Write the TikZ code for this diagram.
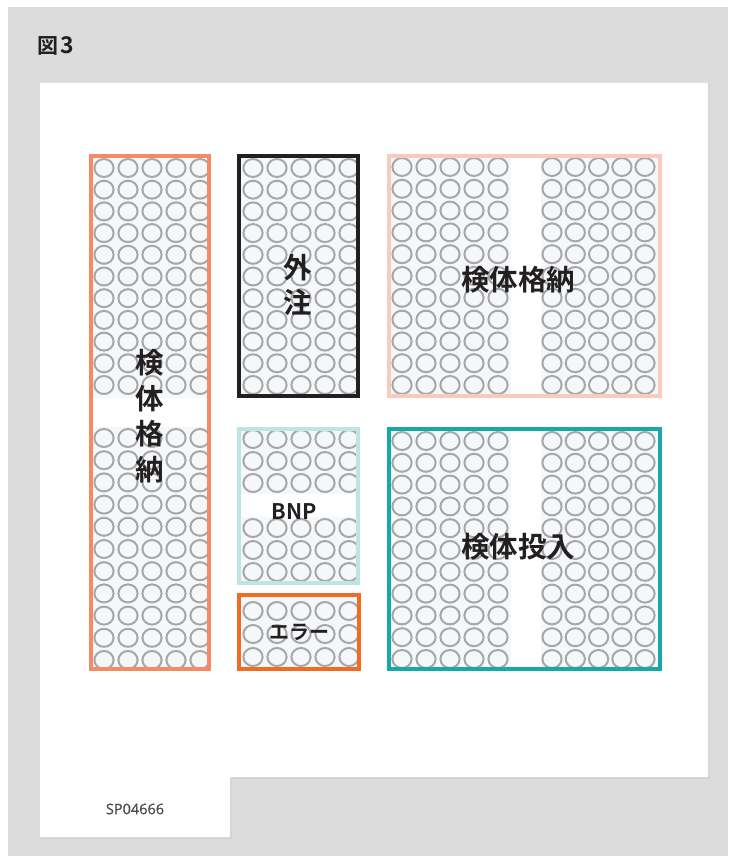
\documentclass[tikz,border=0pt]{standalone}
\usepackage{fontspec}
\newfontfamily\jp{Noto Sans CJK JP}[BoldFont={Noto Sans CJK JP Bold}]
\newfontfamily\osans{Open Sans}[FakeBold=0.8]
\definecolor{bggray}{HTML}{DCDCDC}
\definecolor{shadowgray}{HTML}{D3D3D3}
\definecolor{coral}{HTML}{F68A64}
\definecolor{darkline}{HTML}{231F20}
\definecolor{salmon}{HTML}{F8CBBE}
\definecolor{lightcyan}{HTML}{BFE4E6}
\definecolor{errorange}{HTML}{F26B22}
\definecolor{tealline}{HTML}{17A8A8}
\definecolor{ringgray}{HTML}{A9A6A6}
\definecolor{innerfill}{HTML}{F5F8FA}
\definecolor{textdark}{HTML}{231F20}
\newcommand\ringgrid[2]{%
  \foreach \xx in {#1} {\foreach \yy in {#2} {\draw[ring] (\xx,\yy) ellipse [x radius=9.6pt, y radius=9pt];}}}
\begin{document}
\begin{tikzpicture}[x=1pt,y=-1pt,
  ring/.style={draw=ringgray, line width=2pt},
  tray/.style={draw, line width=4.2pt, inner sep=0pt, outer sep=0pt},
  biglabel/.style={font=\jp\bfseries\fontsize{28.5}{35.5}\selectfont, text=textdark, align=center, inner sep=0pt},
  midlabel/.style={font=\jp\bfseries\fontsize{20}{24}\selectfont, text=textdark, inner sep=0pt}]
\useasboundingbox (0,0) rectangle (728,856);
\fill[white] (0,0) rectangle (728,856);
\fill[bggray] (8,7) rectangle (728,856);
% panel shadow and panel
\fill[shadowgray] (41,84) -- (710,84) -- (710,779) -- (232,779) -- (232,839) -- (41,839) -- cycle;
\fill[white] (40,83) -- (708,83) -- (708,777) -- (230,777) -- (230,837) -- (40,837) -- cycle;
% title
\node[font=\jp\bfseries\fontsize{21}{24}\selectfont, text=textdark, anchor=west, inner sep=0pt] (title) at (37,46) {図\hspace{2pt}{\fontsize{23}{24}\selectfont 3}};
\node[font=\osans\fontsize{14.5}{18}\selectfont, text=black!70, inner sep=0pt] (code) at (135,809) {SP04666};
% interior fills
\fill[innerfill] (91,156) rectangle (209,669);
\fill[white] (93,398) rectangle (207,427);
\fill[innerfill] (239,156) rectangle (358,396);
\fill[innerfill] (239,429) rectangle (358,583);
\fill[white] (241,494) rectangle (356,517);
\fill[innerfill] (239,595) rectangle (359,669);
\fill[innerfill] (389,156) rectangle (660,396);
\fill[innerfill] (389,429) rectangle (660,669);
\fill[white] (511,158) rectangle (541,394);
\fill[white] (511,431) rectangle (541,667);
% rings: left tall tray
\ringgrid{104,128,152,176,200}{168,189.7,211.4,233.1,254.8,276.5,298.2,319.9,341.6,363.3,385}
\ringgrid{104,128,152,176,200}{438,460.2,482.4,504.6,526.8,549,571.2,593.4,615.6,637.8,660}
% middle column
\ringgrid{253,277,301,325,349}{168,189.7,211.4,233.1,254.8,276.5,298.2,319.9,341.6,363.3,385}
\ringgrid{253,277,301,325,349}{439,461,483,528,550,572}
\ringgrid{253,277,301,325,349}{611,634,657}
% right trays
\ringgrid{402,426,450,474,498,552,575.3,598.6,621.9,645}{167,188.8,210.6,232.4,254.2,276,297.8,319.6,341.4,363.2,385}
\ringgrid{402,426,450,474,498,552,575.3,598.6,621.9,645}{441,462.8,484.6,506.4,528.2,550,571.8,593.6,615.4,637.2,659}
% tray borders
\node[tray, draw=coral, minimum width=118pt, minimum height=513pt] (storeL) at (150,412.5) {};
\node[tray, draw=darkline, minimum width=119pt, minimum height=240pt] (outside) at (298.5,276) {};
\node[tray, draw=salmon, minimum width=271pt, minimum height=240pt] (storeR) at (524.5,276) {};
\node[tray, draw=lightcyan, minimum width=119pt, minimum height=154pt] (bnp) at (298.5,506) {};
\node[tray, draw=errorange, minimum width=120pt, minimum height=74pt] (err) at (299,632) {};
\node[tray, draw=tealline, minimum width=271pt, minimum height=240pt] (load) at (524.5,549) {};
% labels
\node[biglabel] (storeLlab) at (150,416) {検\\体\\格\\納};
\node[biglabel] (outsidelab) at (298,285) {外\\注};
\node[biglabel] (storeRlab) at (518,280) {検体格納};
\node[biglabel] (loadlab) at (518,547) {検体投入};
\node[midlabel, font=\jp\bfseries\fontsize{21.5}{24}\selectfont] (bnplab) at (294,512) {BNP};
\node[midlabel] (errlab) at (299,632) {エラー};
\end{tikzpicture}
\end{document}
